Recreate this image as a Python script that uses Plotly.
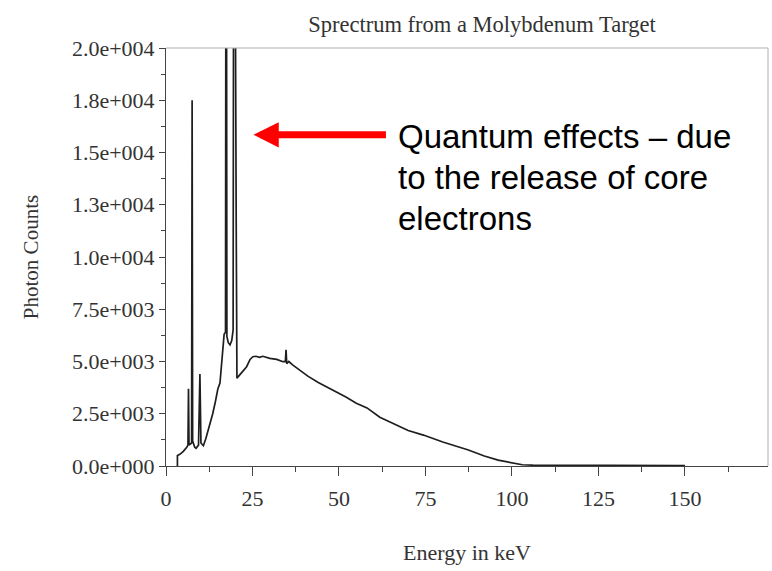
import plotly.graph_objects as go

# ---- data ----
energy_kev = [3.3, 3.3, 4.0, 5.0, 6.0, 6.35, 6.5, 6.65, 7.0, 7.4, 7.55, 7.7, 8.3, 8.7, 9.4, 9.8,
              10.1, 10.8, 11.5, 12.7, 13.5, 14.3, 15.0, 15.6, 16.2, 16.8, 17.2, 17.4, 17.6,
              18.0, 18.5, 19.0, 19.4, 19.65, 20.3, 20.5, 21.0, 22.0, 23.3, 24.3, 25.1, 26.0,
              27.0, 28.0, 30.0, 32.0, 33.8, 34.5, 34.7, 34.9, 35.5, 36.5, 38.7, 41.0, 44.0,
              48.3, 52.0, 55.0, 58.1, 61.8, 66.8, 70.0, 74.4, 80.0, 87.4, 92.0, 96.0, 100.4,
              103.0, 106.0, 110.0, 120.0, 130.0, 140.0, 150.0]
photon_counts = [0, 500, 560, 700, 900, 1000, 3700, 1000, 1050, 1100, 17500, 1200, 900, 850,
                 1000, 4400, 1100, 970, 1300, 1960, 2500, 3100, 3700, 3970, 5000, 6300, 6400,
                 40000, 6200, 5900, 5800, 6000, 6500, 40000, 11400, 4200, 4300, 4500, 4750,
                 5100, 5230, 5250, 5200, 5250, 5150, 5100, 4990, 5000, 5560, 4900, 5000, 4850,
                 4560, 4300, 4000, 3640, 3300, 3000, 2780, 2330, 1960, 1700, 1480, 1150, 766,
                 480, 280, 158, 60, 40, 40, 30, 25, 20, 15]

x_tick_values = [0, 25, 50, 75, 100, 125, 150]
y_tick_values = [0, 2500, 5000, 7500, 10000, 12500, 15000, 17500, 20000]
y_tick_labels = ["0.0e+000", "2.5e+003", "5.0e+003", "7.5e+003", "1.0e+004",
                 "1.3e+004", "1.5e+004", "1.8e+004", "2.0e+004"]

title_text = "Sprectrum from a Molybdenum Target"
x_title = "Energy in keV"
y_title = "Photon Counts"
note_lines = ["Quantum effects \u2013 due", "to the release of core", "electrons"]

# ---- layout constants (pixels) ----
W, H = 772, 571
L, R, T, B = 166, 4, 48, 105
plot_w = W - L - R
plot_h = H - T - B

def px_to_paper_x(px):
    return (px - L) / plot_w

def px_to_paper_y(py):
    return (H - B - py) / plot_h

serif = "Liberation Serif, Times New Roman, serif"
sans = "Liberation Sans, Arial, sans-serif"
axis_col = "#444444"
text_col = "#333333"

fig = go.Figure()
fig.add_trace(go.Scatter(x=energy_kev, y=photon_counts, mode="lines",
                         line=dict(color="#1e1e1e", width=1.7), showlegend=False,
                         hoverinfo="x+y"))

fig.update_layout(
    width=W, height=H, autosize=False,
    margin=dict(l=L, r=R, t=T, b=B),
    paper_bgcolor="white", plot_bgcolor="white",
    title=dict(text=title_text, x=482 / W, xanchor="center", y=1 - 24 / H,
               yanchor="middle", yref="container",
               font=dict(family=serif, size=22.5, color=text_col)),
    xaxis=dict(range=[0, 174], tickmode="array", tickvals=x_tick_values,
               ticks="outside", ticklen=9, tickwidth=1, tickcolor=axis_col,
               showline=True, linecolor=axis_col, linewidth=1,
               showgrid=False, zeroline=False, ticklabelstandoff=4,
               tickfont=dict(family=serif, size=22, color=text_col),
               minor=dict(tickmode="linear", tick0=0, dtick=12.5, ticks="outside",
                          ticklen=5, tickcolor=axis_col),
               title=dict(text=x_title, standoff=34,
                          font=dict(family=serif, size=22, color=text_col))),
    yaxis=dict(range=[0, 20000], tickmode="array", tickvals=y_tick_values,
               ticktext=y_tick_labels, ticks="outside", ticklen=6, tickwidth=1,
               tickcolor=axis_col, showline=True, linecolor=axis_col, linewidth=1,
               showgrid=False, zeroline=False,
               tickfont=dict(family=serif, size=22, color=text_col),
               minor=dict(tickmode="linear", tick0=0, dtick=1250, ticks="outside",
                          ticklen=4, tickcolor=axis_col),
               title=dict(text=y_title, standoff=27,
                          font=dict(family=serif, size=21, color=text_col))),
    shapes=[
        dict(type="line", xref="paper", yref="paper", x0=0, x1=1, y0=1, y1=1,
             line=dict(color="#b0b0b0", width=1)),
        dict(type="line", xref="paper", yref="paper", x0=1, x1=1, y0=0, y1=1,
             line=dict(color="#b0b0b0", width=1)),
    ],
)

# red arrow pointing at the characteristic peaks
fig.add_annotation(x=25.3, y=15845, ax=64.0, ay=15845, xref="x", yref="y",
                   axref="x", ayref="y", text="", showarrow=True,
                   arrowhead=2, arrowsize=0.72, arrowwidth=7, arrowcolor="#ff0000")

for i, line in enumerate(note_lines):
    fig.add_annotation(x=px_to_paper_x(396), y=px_to_paper_y(137 + 40.5 * i),
                       xref="paper", yref="paper", text=line, showarrow=False,
                       xanchor="left", yanchor="middle",
                       font=dict(family=sans, size=33, color="black"))

fig.write_html("out.html",
               config={"displayModeBar": False},
               post_script="document.body.style.margin='0px';"
                           "document.body.style.overflow='hidden';")
